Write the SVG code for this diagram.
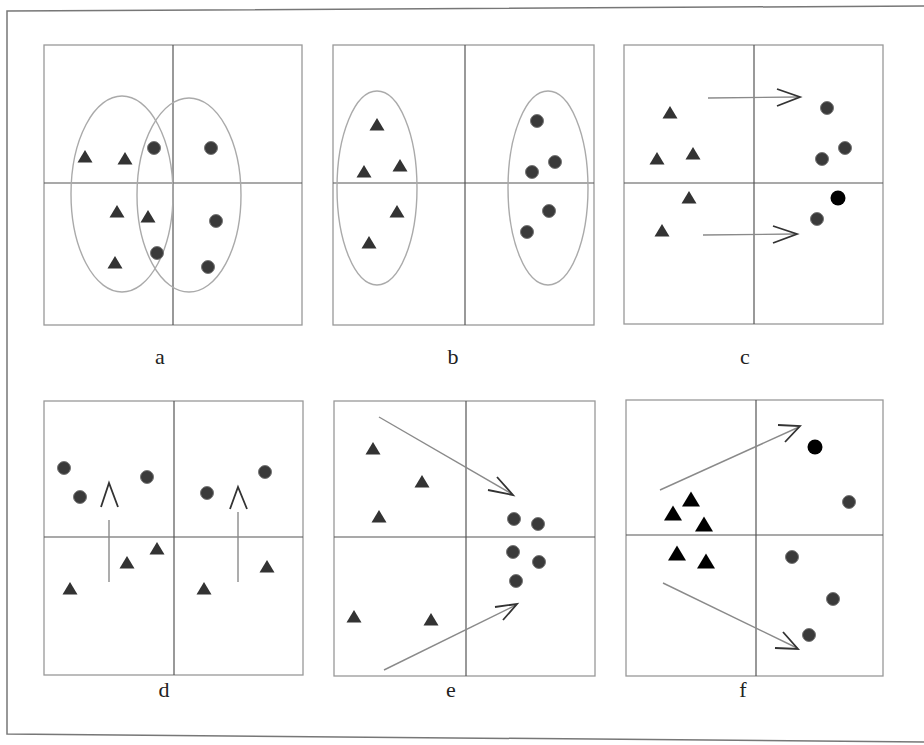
<svg xmlns="http://www.w3.org/2000/svg" xmlns:xlink="http://www.w3.org/1999/xlink" width="924" height="745" viewBox="0 0 924 745">
<style>
.frame{fill:none;stroke:#999;stroke-width:1.3}
.axis{stroke:#555;stroke-width:1.2}
.ell{fill:none;stroke:#aaa;stroke-width:1.4}
.tri{fill:#333}
.dot{fill:#3a3a3a;stroke:#777;stroke-width:1}
.blk{fill:#000}
.shaft{fill:none;stroke:#8a8a8a;stroke-width:1.4}
.head{fill:none;stroke:#333;stroke-width:1.8;stroke-linejoin:miter}
.lbl{font-family:"Liberation Serif","Times New Roman",serif;font-size:22px;fill:#222;text-anchor:middle}
</style>
<defs>
<path id="t" d="M0,-7 L7.5,5.5 L-7.5,5.5 Z"/>
<path id="tb" d="M0,-8.5 L9,6.5 L-9,6.5 Z"/>
</defs>
<rect width="924" height="745" fill="#fff"/>
<g id="border" fill="none" stroke="#777" stroke-width="1.5">
<polyline points="924,6 7,11 7,734 924,742"/>
</g>

<g id="panel-a">
<rect class="frame" x="44" y="45" width="258" height="280"/>
<line class="axis" x1="173" y1="45" x2="173" y2="325"/>
<line class="axis" x1="44" y1="183" x2="302" y2="183"/>
<ellipse class="ell" cx="122" cy="194" rx="51" ry="98"/>
<ellipse class="ell" cx="189" cy="195" rx="52" ry="97"/>
<use href="#t" class="tri" x="85" y="157"/>
<use href="#t" class="tri" x="125" y="159"/>
<use href="#t" class="tri" x="117" y="212"/>
<use href="#t" class="tri" x="148" y="217"/>
<use href="#t" class="tri" x="115" y="263"/>
<circle class="dot" cx="154" cy="148" r="6.5"/>
<circle class="dot" cx="211" cy="148" r="6.5"/>
<circle class="dot" cx="216" cy="221" r="6.5"/>
<circle class="dot" cx="157" cy="253" r="6.5"/>
<circle class="dot" cx="208" cy="267" r="6.5"/>
<text class="lbl" x="160" y="364">a</text>
</g>

<g id="panel-b">
<rect class="frame" x="333" y="45" width="261" height="280"/>
<line class="axis" x1="465" y1="45" x2="465" y2="325"/>
<line class="axis" x1="333" y1="183" x2="594" y2="183"/>
<ellipse class="ell" cx="377" cy="188" rx="40" ry="97"/>
<ellipse class="ell" cx="548" cy="188" rx="40" ry="97"/>
<use href="#t" class="tri" x="377" y="125"/>
<use href="#t" class="tri" x="364" y="172"/>
<use href="#t" class="tri" x="400" y="166"/>
<use href="#t" class="tri" x="397" y="212"/>
<use href="#t" class="tri" x="369" y="243"/>
<circle class="dot" cx="537" cy="121" r="6.5"/>
<circle class="dot" cx="555" cy="162" r="6.5"/>
<circle class="dot" cx="532" cy="172" r="6.5"/>
<circle class="dot" cx="549" cy="211" r="6.5"/>
<circle class="dot" cx="527" cy="232" r="6.5"/>
<text class="lbl" x="453" y="364">b</text>
</g>

<g id="panel-c">
<rect class="frame" x="624" y="45" width="259" height="279"/>
<line class="axis" x1="754" y1="45" x2="754" y2="324" stroke="#999"/>
<line class="axis" x1="624" y1="183" x2="883" y2="183"/>
<use href="#t" class="tri" x="670" y="113"/>
<use href="#t" class="tri" x="657" y="159"/>
<use href="#t" class="tri" x="693" y="154"/>
<use href="#t" class="tri" x="689" y="198"/>
<use href="#t" class="tri" x="662" y="231"/>
<circle class="dot" cx="827" cy="108" r="6.5"/>
<circle class="dot" cx="845" cy="148" r="6.5"/>
<circle class="dot" cx="822" cy="159" r="6.5"/>
<circle class="blk" cx="838" cy="198" r="7.5"/>
<circle class="dot" cx="817" cy="219" r="6.5"/>
<text class="lbl" x="745" y="364">c</text>
</g>

<g id="panel-d">
<rect class="frame" x="44" y="401" width="259" height="274"/>
<line class="axis" x1="174" y1="401" x2="174" y2="675" stroke="#999"/>
<line class="axis" x1="44" y1="537" x2="303" y2="537"/>
<circle class="dot" cx="64" cy="468" r="6.5"/>
<circle class="dot" cx="80" cy="497" r="6.5"/>
<circle class="dot" cx="147" cy="477" r="6.5"/>
<circle class="dot" cx="207" cy="493" r="6.5"/>
<circle class="dot" cx="265" cy="472" r="6.5"/>
<use href="#t" class="tri" x="157" y="549"/>
<use href="#t" class="tri" x="127" y="563"/>
<use href="#t" class="tri" x="70" y="589"/>
<use href="#t" class="tri" x="204" y="589"/>
<use href="#t" class="tri" x="267" y="567"/>
<text class="lbl" x="164" y="697">d</text>
</g>

<g id="panel-e">
<rect class="frame" x="334" y="401" width="261" height="275"/>
<line class="axis" x1="466" y1="401" x2="466" y2="676" stroke="#999"/>
<line class="axis" x1="334" y1="537" x2="595" y2="537"/>
<use href="#t" class="tri" x="373" y="449"/>
<use href="#t" class="tri" x="422" y="482"/>
<use href="#t" class="tri" x="379" y="517"/>
<use href="#t" class="tri" x="354" y="617"/>
<use href="#t" class="tri" x="431" y="620"/>
<circle class="dot" cx="514" cy="519" r="6.5"/>
<circle class="dot" cx="538" cy="524" r="6.5"/>
<circle class="dot" cx="513" cy="552" r="6.5"/>
<circle class="dot" cx="539" cy="562" r="6.5"/>
<circle class="dot" cx="516" cy="581" r="6.5"/>
<text class="lbl" x="451" y="697">e</text>
</g>

<g id="panel-f">
<rect class="frame" x="626" y="400" width="257" height="276"/>
<line class="axis" x1="756" y1="400" x2="756" y2="676" stroke="#aaa"/>
<line class="axis" x1="626" y1="535" x2="883" y2="535" stroke="#888"/>
<use href="#tb" class="blk" x="691" y="500"/>
<use href="#tb" class="blk" x="673" y="514"/>
<use href="#tb" class="blk" x="704" y="525"/>
<use href="#tb" class="blk" x="677" y="554"/>
<use href="#tb" class="blk" x="706" y="562"/>
<circle class="blk" cx="815" cy="447" r="7.5"/>
<circle class="dot" cx="849" cy="502" r="6.5"/>
<circle class="dot" cx="792" cy="557" r="6.5"/>
<circle class="dot" cx="833" cy="599" r="6.5"/>
<circle class="dot" cx="809" cy="635" r="6.5"/>
<text class="lbl" x="743" y="697">f</text>
</g>

<g id="connectors">
<line class="shaft" x1="708" y1="98" x2="798" y2="97"/>
<polyline class="head" points="777,89 800,97 777,106"/>
<line class="shaft" x1="703" y1="235" x2="795" y2="234"/>
<polyline class="head" points="773,226 797,234 773,243"/>
<line class="shaft" x1="109" y1="582" x2="109" y2="520"/>
<polyline class="head" points="101,507 109,483 118,507"/>
<line class="shaft" x1="238" y1="582" x2="238" y2="512"/>
<polyline class="head" points="230,509 238,487 247,509"/>
<line class="shaft" x1="379" y1="417" x2="512" y2="494"/>
<polyline class="head" points="497,477 513,495 488,490"/>
<line class="shaft" x1="384" y1="670" x2="516" y2="605"/>
<polyline class="head" points="495,607 517,604 503,620"/>
<line class="shaft" x1="660" y1="490" x2="799" y2="427"/>
<polyline class="head" points="778,425 800,426 785,442"/>
<line class="shaft" x1="663" y1="583" x2="797" y2="648"/>
<polyline class="head" points="783,632 798,649 775,648"/>
</g>
</svg>
